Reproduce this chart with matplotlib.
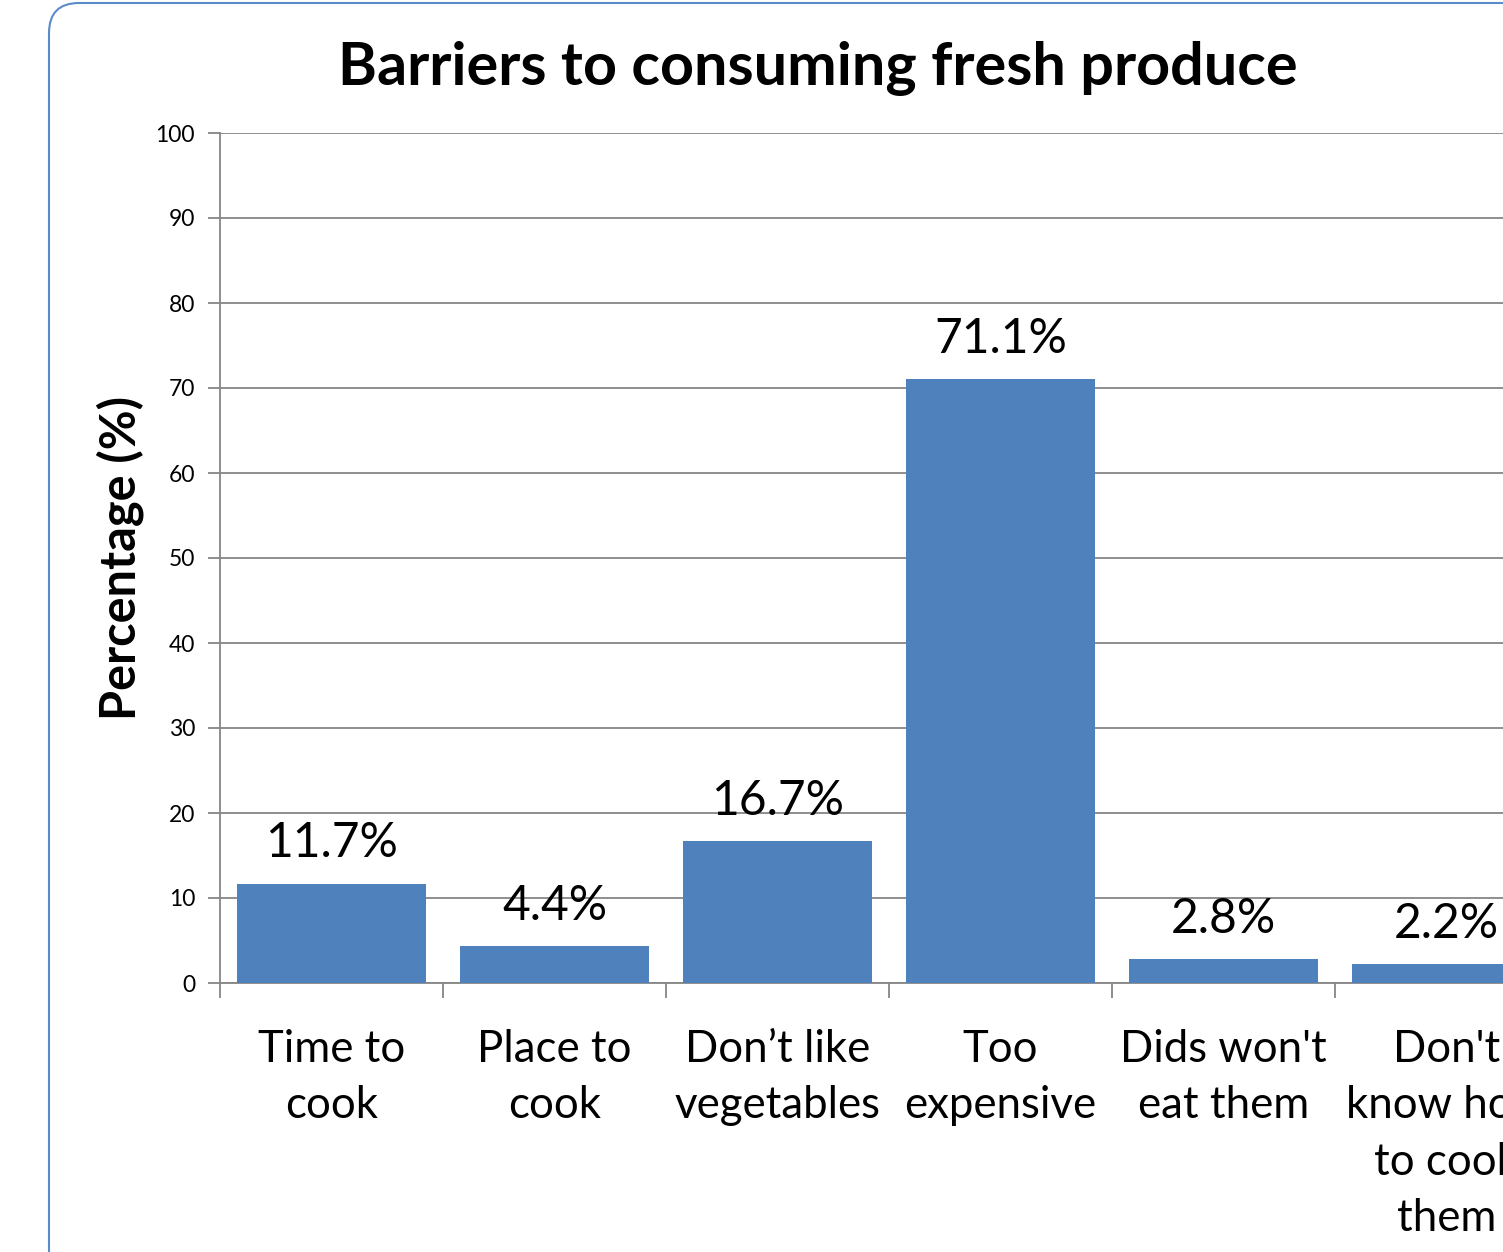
import numpy as np
import matplotlib.pyplot as plt
from matplotlib.patches import FancyBboxPatch

categories = ["Time to\ncook", "Place to\ncook", "Don\u2019t like\nvegetables",
              "Too\nexpensive", "Dids won't\neat them", "Don't\nknow how\nto cook\nthem"]
values = [11.7, 4.4, 16.7, 71.1, 2.8, 2.2]
value_labels = ["11.7%", "4.4%", "16.7%", "71.1%", "2.8%", "2.2%"]
yticks = [0, 10, 20, 30, 40, 50, 60, 70, 80, 90, 100]

plt.rcParams['font.family'] = ['Lato', 'DejaVu Sans']

W, H = 1503, 1252
fig = plt.figure(figsize=(W / 100, H / 100), dpi=100)

# rounded chart-area border, runs off the right and bottom edges
box = FancyBboxPatch((0.49, -1.0), 16.0, 13.49,
                     boxstyle="round,pad=0,rounding_size=0.3",
                     transform=fig.dpi_scale_trans, facecolor="none",
                     edgecolor="#5b8bc9", linewidth=1.5, zorder=-1)
fig.patches.append(box)

cat_w = 223
ax = fig.add_axes([220 / W, (H - 983) / H, 6 * cat_w / W, 850 / H])
ax.set_facecolor("none")

x = np.arange(len(categories))
bars = ax.bar(x, values, width=0.85, color="#4f81bd", zorder=3)

for xi, v, lab in zip(x, values, value_labels):
    ax.annotate(lab, (xi, v), xytext=(0, 13), textcoords="offset points",
                ha="center", va="bottom", fontsize=34.5, color="black")

ax.set_xlim(-0.5, len(categories) - 0.5)
ax.set_ylim(0, 100)
ax.set_yticks(yticks)
ax.tick_params(axis="y", labelsize=16.5, length=9, width=1.3, color="#868686", pad=9)
ax.yaxis.grid(True, color="#868686", linewidth=1.3, zorder=0)

ax.set_xticks(x)
ax.set_xticklabels(categories, fontsize=31.5, linespacing=1.47)
ax.tick_params(axis="x", which="major", length=0, pad=33)
ax.set_xticks(np.arange(-0.5, len(categories), 1.0), minor=True)
ax.tick_params(axis="x", which="minor", length=11, width=1.3, color="#868686")

for s in ("top", "right"):
    ax.spines[s].set_visible(False)
for s in ("left", "bottom"):
    ax.spines[s].set_color("#868686")
    ax.spines[s].set_linewidth(1.3)

ax.set_ylabel("Percentage (%)", fontsize=35, fontweight="bold", labelpad=8)

fig.text(818 / W, 1 - 68 / H, "Barriers to consuming fresh produce",
         ha="center", va="center", fontsize=42.7, fontweight="bold")

fig.savefig("out.png", dpi=100)
